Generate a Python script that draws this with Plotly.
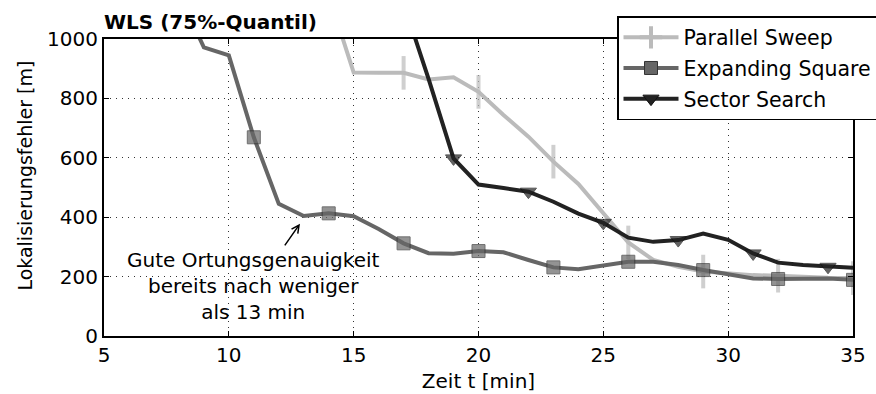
import plotly.graph_objects as go

# Zeit t [min] und 75%-Quantil des Lokalisierungsfehlers [m] je Suchmuster
t_parallel = list(range(14, 36))
err_parallel = [1148, 887, 886, 886, 864, 871, 822, 744, 671, 587, 512, 414,
                315, 256, 233, 217, 211, 205, 203, 198, 196, 195]

t_expanding = list(range(8, 36))
err_expanding = [1150, 972, 945, 669, 445, 404, 413, 403, 360, 312, 279, 277,
                 286, 282, 256, 231, 225, 236, 250, 250, 239, 222, 208, 194,
                 192, 193, 194, 189]

t_sector = list(range(17, 36))
err_sector = [1120, 866, 598, 510, 498, 486, 452, 412, 381, 331, 317, 323,
              345, 324, 278, 247, 239, 233, 230]

x_ticks = [5, 10, 15, 20, 25, 30, 35]
y_ticks = [0, 200, 400, 600, 800, 1000]

FONT = "DejaVu Sans"
W, H = 876, 394
M_L, M_R, M_T, M_B = 104, 23, 39, 58


def marker_sizes(ts, size, phase):
    # Marker nur an jedem dritten Zeitschritt
    return [size if tt % 3 == phase else 0 for tt in ts]


def px_to_paper_x(px):
    return (px - M_L) / (W - M_L - M_R)


def px_to_paper_y(py):
    return (H - M_B - py) / (H - M_T - M_B)


fig = go.Figure()

series = [
    ("Parallel Sweep", t_parallel, err_parallel, "#bbbbbb",
     dict(symbol="line-ns", size=24, line=dict(color="#bbbbbb", width=4)),
     2),
    ("Expanding Square", t_expanding, err_expanding, "#666666",
     dict(symbol="square", size=13, color="#666666",
          line=dict(color="#333333", width=1)),
     2),
    ("Sector Search", t_sector, err_sector, "#222222",
     dict(symbol="triangle-down", size=14, color="#222222",
          line=dict(color="#111111", width=1)),
     1),
]

for name, ts, ys, color, marker, phase in series:
    # Linie mit Markern an jedem dritten Punkt
    m = dict(marker)
    m["size"] = marker_sizes(ts, marker["size"], phase)
    fig.add_trace(go.Scatter(
        x=ts, y=ys, name=name, mode="lines+markers",
        line=dict(color=color, width=4), marker=m,
        legendgroup=name, showlegend=False,
    ))
    # Legendeneintrag
    legend_marker = dict(marker)
    if marker["symbol"] == "line-ns":
        legend_marker["symbol"] = "cross-thin"
        legend_marker["size"] = 22
    fig.add_trace(go.Scatter(
        x=[None], y=[None], name=name, mode="lines+markers",
        line=dict(color=color, width=4), marker=legend_marker,
        legendgroup=name, showlegend=True,
    ))

# Hinweis mit Pfeil auf den Expanding-Square-Verlauf
fig.add_annotation(
    x=12.85, y=378, ax=12.2, ay=300, axref="x", ayref="y",
    text="", showarrow=True, arrowhead=5, arrowsize=1, arrowwidth=1.5,
    arrowcolor="black",
)
fig.add_annotation(
    x=11.0, y=168, xref="x", yref="y", showarrow=False,
    text="Gute Ortungsgenauigkeit<br>bereits nach weniger<br>als 13 min",
    font=dict(family=FONT, size=20, color="black"), align="center",
)

# y-Achsenbeschriftung
fig.add_annotation(
    xref="paper", yref="paper", x=0, y=0.54, xshift=-92, showarrow=False,
    text="Lokalisierungsfehler [m]", textangle=-90,
    font=dict(family=FONT, size=19, color="black"),
)

# Schatten der Legende
fig.add_shape(
    type="rect", xref="paper", yref="paper", layer="above",
    x0=px_to_paper_x(620), x1=px_to_paper_x(900),
    y0=px_to_paper_y(120), y1=px_to_paper_y(24),
    fillcolor="#9a9a9a", line=dict(width=0),
)

axis_common = dict(
    showline=True, linecolor="black", linewidth=2, mirror="ticks",
    ticks="inside", ticklen=5, tickwidth=1, tickcolor="black",
    showgrid=True, gridcolor="#333333", gridwidth=1, griddash="1px,5px",
    zeroline=False, tickfont=dict(family=FONT, size=20, color="black"),
)

fig.update_xaxes(range=[5, 35], tickvals=x_ticks,
                 title=dict(text="Zeit t [min]", standoff=8,
                            font=dict(family=FONT, size=20, color="black")),
                 **axis_common)
fig.update_yaxes(range=[0, 1000], tickvals=y_ticks, **axis_common)

fig.update_layout(
    width=W, height=H,
    margin=dict(l=M_L, r=M_R, t=M_T, b=M_B, autoexpand=False),
    paper_bgcolor="white", plot_bgcolor="white",
    font=dict(family=FONT, size=20, color="black"),
    title=dict(text="<b>WLS (75%-Quantil)</b>", xref="paper", x=0,
               xanchor="left", yref="container", y=1 - 22 / 394,
               yanchor="middle",
               font=dict(family=FONT, size=20, color="black")),
    legend=dict(x=px_to_paper_x(617), y=px_to_paper_y(16),
                xanchor="left", yanchor="top",
                bgcolor="white", bordercolor="black", borderwidth=1.5,
                font=dict(family=FONT, size=20.5, color="black"),
                itemwidth=55, entrywidth=230, entrywidthmode="pixels",
                tracegroupgap=1, itemsizing="trace"),
    showlegend=True,
)

fig.write_html("out.html")
